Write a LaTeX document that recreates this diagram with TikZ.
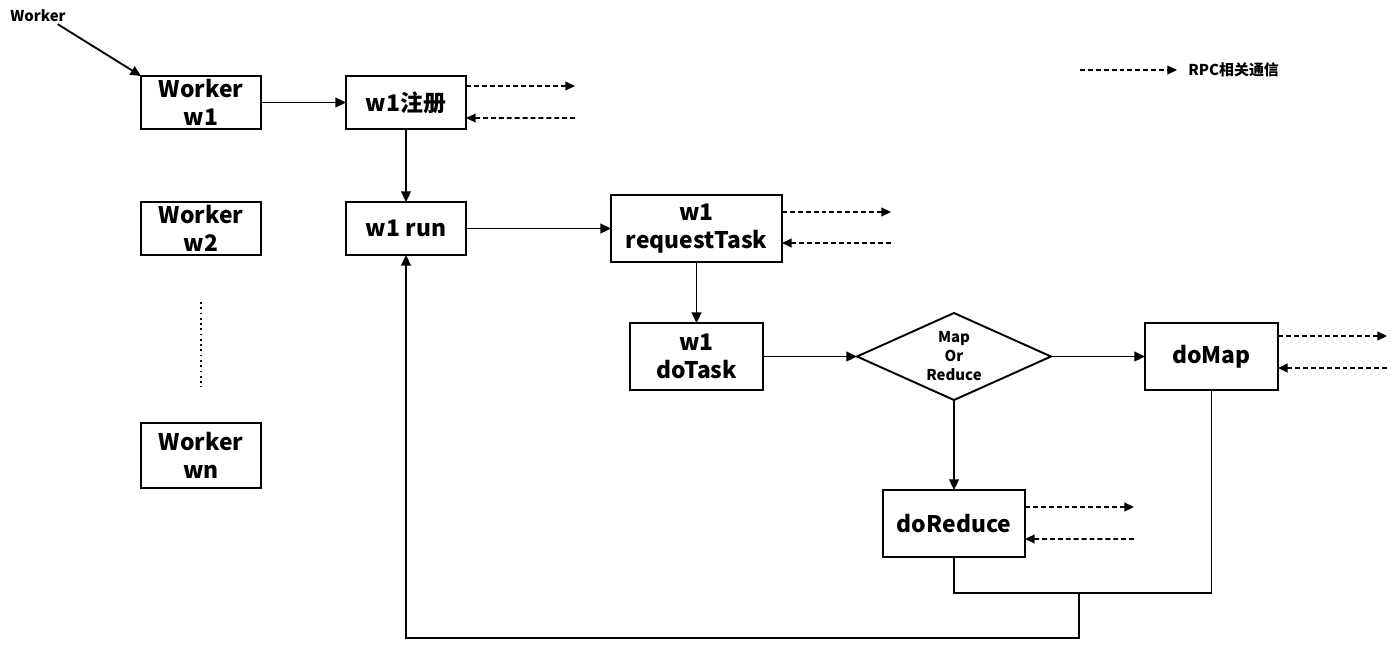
\documentclass[tikz,border=0pt]{standalone}
\usepackage{fontspec}
\setmainfont{Noto Sans CJK SC}
\usetikzlibrary{shapes.geometric,arrows.meta,positioning,calc}

\begin{document}
\begin{tikzpicture}[
    node distance=1.46cm and 1.7cm,
    block/.style={rectangle, draw, line width=1.1pt, outer sep=0pt, minimum width=2.4cm, minimum height=1.06cm, align=center, inner sep=0pt, font=\bfseries\fontsize{13}{16}\selectfont},
    wide/.style={block, minimum width=2.66cm, minimum height=1.34cm},
    decision/.style={diamond, draw, line width=1.1pt, outer sep=0pt, aspect=2.23, minimum width=3.88cm, minimum height=1.74cm, inner sep=0pt, align=center, font=\bfseries\fontsize{8.5}{10.8}\selectfont},
    small/.style={font=\bfseries\fontsize{8.5}{10}\selectfont, inner sep=1pt},
    arrow/.style={-{Triangle[length=6pt,width=5.5pt]}, line width=1.05pt},
    link/.style={line width=1.05pt},
    rpc/.style={-{Triangle[length=5.5pt,width=5pt]}, line width=0.9pt, dash pattern=on 2.8pt off 1.7pt}
]
\useasboundingbox (0,0) rectangle (27.9,-13.24);

% Workers
\node[block] (w1) at (4.02,-2.05) {Worker\\w1};
\node[block, below=of w1] (w2) {Worker\\w2};
\node[block, below=3.36cm of w2, minimum height=1.3cm] (wn) {Worker\\wn};
\node[small] (wlabel) at (0.76,-0.32) {Worker};

% Worker w1 flow
\node[block, right=of w1] (reg) {w1注册};
\node[block, below=of reg] (run) {w1 run};
\node[wide, right=2.9cm of run, minimum width=3.42cm] (req) {w1\\requestTask};
\node[wide, below=1.22cm of req] (dotask) {w1\\doTask};

% Map or Reduce
\node[decision, right=1.88cm of dotask] (choice) {Map\\Or\\Reduce};
\node[wide, right=1.88cm of choice] (domap) {doMap};
\node[wide, below=1.8cm of choice, minimum width=2.84cm] (doreduce) {doReduce};

% Legend
\coordinate (legstart) at (21.6,-1.4);
\node[small, anchor=west, inner xsep=0.22cm] (legtext) at (23.54,-1.4) {RPC相关通信};
\draw[rpc] (legstart) -- (legtext.west);

% Arrows
\draw[arrow] ([xshift=-0.2cm]wlabel.south east) -- (w1.north west);
\draw[arrow] (w1) -- (reg);
\draw[arrow] (reg) -- (run);
\draw[arrow] (run.east) -- (run.east -| req.west);
\draw[arrow] (req) -- (dotask);
\draw[arrow] (dotask) -- (choice);
\draw[arrow] (choice) -- (domap);
\draw[arrow] (choice) -- (doreduce);
\draw[dotted, line width=1pt, shorten <=0.94cm, shorten >=0.72cm] (w2) -- (wn);

% RPC calls
\foreach \n/\up/\dn in {reg/0.33/0.31, req/0.33/0.29, domap/0.41/0.23, doreduce/0.33/0.31} {
  \draw[rpc] ([yshift=\up cm]\n.east) -- ++(2.18,0);
  \draw[rpc] ($(\n.east)+(2.18,-\dn)$) -- ([yshift=-\dn cm]\n.east);
}

% Back to run
\draw[link] (doreduce.south) -- ++(0,-0.72) coordinate (rbase) -| (domap.south);
\coordinate (merge) at ($(rbase)+(2.5,0)$);
\draw[arrow] (merge) -- ++(0,-0.9) -| (run.south);

\end{tikzpicture}
\end{document}
